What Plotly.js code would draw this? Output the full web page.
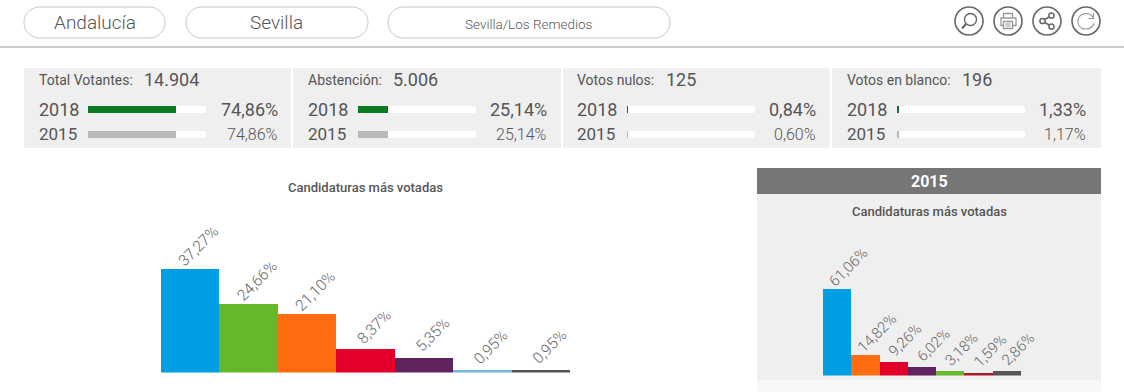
<!DOCTYPE html>
<html><head><meta charset="utf-8">
<script src="https://cdn.plot.ly/plotly-3.0.1.min.js"></script>
<style>html,body{margin:0;padding:0;background:#fff;overflow:hidden}#c{width:1124px;height:392px}</style>
</head><body><div id="c"></div>
<script>
// ---- data ----
const categories2018 = ["Cand. A","Cand. B","Cand. C","Cand. D","Cand. E","Cand. F","Cand. G"];
const values2018 = [37.27,24.66,21.10,8.37,5.35,0.95,0.95];
const colors2018 = ["#009fe3","#66b82a","#ff6c10","#e2002a","#5f2360","#6fb7dd","#555555"];
const categories2015 = ["Cand. A","Cand. C","Cand. D","Cand. E","Cand. B","Cand. H","Cand. G"];
const values2015 = [61.06,14.82,9.26,6.02,3.18,1.59,2.86];
const colors2015 = ["#009fe3","#ff6c10","#e2002a","#5f2360","#66b82a","#a8182e","#555555"];
const kpiNames = ["Total Votantes:","Abstención:","Votos nulos:","Votos en blanco:"];
const kpiTotals = ["14.904","5.006","125","196"];
const kpi2018 = [74.86,25.14,0.84,1.33];
const kpi2015 = [74.86,25.14,0.60,1.17];
const years = ["2018","2015"];
const breadcrumbs = ["Andalucía","Sevilla","Sevilla/Los Remedios"];
const chartTitle = "Candidaturas más votadas";
const sideHeader = "2015";

// ---- helpers ----
const W=1124,H=392;
const fx=x=>x/W, fy=y=>1-y/H;
const dx=(a,b)=>[fx(a),fx(b)], dy=(top,bot)=>[fy(bot),fy(top)];
const pct=v=>v.toFixed(2).replace('.',',')+'%';
const F="Roboto, sans-serif", TXT="#555555";
const hidden=(o)=>Object.assign({visible:false,fixedrange:true,showgrid:false,zeroline:false},o);
const shapes=[], annotations=[];
const rect=(x0,y0,x1,y1,c)=>shapes.push({type:'rect',xref:'paper',yref:'paper',layer:'below',x0:fx(x0),x1:fx(x1),y0:fy(y1),y1:fy(y0),fillcolor:c,line:{width:0}});
const text=(x,y,t,size,o={})=>annotations.push({xref:'paper',yref:'paper',x:fx(x),y:fy(y),text:t,showarrow:false,xanchor:o.anchor||'left',yanchor:'middle',
  font:{family:F,size:size,color:o.color||TXT,weight:o.weight||400},borderpad:0,borderwidth:0});
const pathP=(segs,stroke,w,fill)=>shapes.push({type:'path',xref:'paper',yref:'paper',layer:'below',path:segs,line:{color:stroke,width:w},fillcolor:fill||'rgba(0,0,0,0)'});
const P=(x,y)=>fx(x)+','+fy(y);
function pill(x0,y0,x1,y1){
  const r=(y1-y0)/2,k=r*0.45;
  pathP('M'+P(x0+r,y0)+'L'+P(x1-r,y0)+'C'+P(x1-k,y0)+' '+P(x1,y0+k)+' '+P(x1,y0+r)+'C'+P(x1,y1-k)+' '+P(x1-k,y1)+' '+P(x1-r,y1)
    +'L'+P(x0+r,y1)+'C'+P(x0+k,y1)+' '+P(x0,y1-k)+' '+P(x0,y0+r)+'C'+P(x0,y0+k)+' '+P(x0+k,y0)+' '+P(x0+r,y0)+'Z','#c6c6c6',1);
}
const circle=(cx,cy,r,stroke,w,fill)=>shapes.push({type:'circle',xref:'paper',yref:'paper',layer:'below',x0:fx(cx-r),x1:fx(cx+r),y0:fy(cy+r),y1:fy(cy-r),line:{color:stroke,width:w},fillcolor:fill||'rgba(0,0,0,0)'});

// ---- header ----
pill(24,7,165,38); pill(186,7,368,38); pill(388,7,670,38);
text(94.5,23,breadcrumbs[0],19,{anchor:'center',weight:300});
text(276.5,23,breadcrumbs[1],19,{anchor:'center',weight:300});
text(528.5,24,breadcrumbs[2],13.5,{anchor:'center',weight:300});
rect(0,46,W,48,'#cccccc');
const ICON='#666666', ICON2='#999999';
[969,1008,1047,1086].forEach(c=>circle(c,21,14,ICON,1.6));
// search
circle(970.5,19.5,6,ICON,1.4);
pathP('M'+P(966,24)+'L'+P(962,28.5),ICON,2);
// print
pathP('M'+P(1003.5,18)+'L'+P(1003.5,13.5)+'L'+P(1012.5,13.5)+'L'+P(1012.5,18),ICON2,1.3);
pathP('M'+P(1003,25.5)+'L'+P(1001,25.5)+'L'+P(1001,18)+'L'+P(1016,18)+'L'+P(1016,25.5)+'L'+P(1013,25.5),ICON2,1.3);
pathP('M'+P(1003.5,21.5)+'L'+P(1012.5,21.5)+'L'+P(1012.5,28.5)+'L'+P(1003.5,28.5)+'Z',ICON2,1.3);
pathP('M'+P(1005.5,24)+'L'+P(1010.5,24)+'M'+P(1005.5,26)+'L'+P(1010.5,26),ICON2,1);
// share
circle(1042.5,21,2.6,ICON,1.5); circle(1051.5,15.5,2.6,ICON,1.5); circle(1051.5,26.5,2.6,ICON,1.5);
pathP('M'+P(1045,19.5)+'L'+P(1049,17)+'M'+P(1045,22.5)+'L'+P(1049,25),ICON,1.5);
// refresh
pathP('M'+P(1093,17)+'C'+P(1090.5,14)+' '+P(1087,13)+' '+P(1084,13.8)+'C'+P(1075,16)+' '+P(1076,29)+' '+P(1086,29)+'C'+P(1090,29)+' '+P(1093,26.5)+' '+P(1094,23.5),ICON2,1.2);
pathP('M'+P(1093.5,13)+'L'+P(1093.5,18.5)+'L'+P(1088.5,18.5),ICON2,1.2);

// ---- KPI strip ----
rect(24,68,1101,148,'#efefef');
[292,562,831].forEach(x=>rect(x-1,68,x+1,148,'#ffffff'));
const kpiLabelX=[39,308,577,847], kpiTotalX=[144,393,666,962];
const trackX=[[88,206],[358,476],[627,755],[897,1025]], pctX=[278,547,816,1086];
const traces=[];
const layout={width:W,height:H,margin:{l:0,r:0,t:0,b:0,pad:0},paper_bgcolor:'rgba(0,0,0,0)',plot_bgcolor:'rgba(0,0,0,0)',
  showlegend:false,barmode:'overlay',bargap:0,font:{family:F},shapes,annotations};
kpiNames.forEach((n,i)=>{
  const a=i+3, xa='x'+a, ya='y'+a;
  text(kpiLabelX[i],80,n,14);
  text(kpiTotalX[i],79.5,kpiTotals[i],18);
  text(kpiLabelX[i]-0.5,109,years[0],18);
  text(kpiLabelX[i]-0.5,134,years[1],17);
  text(pctX[i],109,pct(kpi2018[i]),18,{anchor:'right'});
  text(pctX[i],134,pct(kpi2015[i]),16,{anchor:'right',weight:300});
  layout['xaxis'+a]=hidden({domain:dx(trackX[i][0],trackX[i][1]),range:[0,100],anchor:ya});
  layout['yaxis'+a]=hidden({domain:dy(97,147),type:'category',range:[1.5,-0.5],anchor:xa});
  const rows=[[kpi2018[i],'#0a7a23'],[kpi2015[i],'#b9b9b9']];
  traces.push({type:'bar',orientation:'h',y:years,x:[100,100],xaxis:xa,yaxis:ya,width:0.28,marker:{color:'#ffffff',line:{width:0}},hoverinfo:'skip'});
  traces.push({type:'bar',orientation:'h',y:years,x:rows.map(r=>r[0]),xaxis:xa,yaxis:ya,width:0.28,marker:{color:rows.map(r=>r[1]),line:{width:0}},hoverinfo:'skip'});
});
layout.barcornerradius='50%';

// ---- side panel ----
rect(757,168,1101,194,'#767676');
rect(757,194,1101,380,'#efefef');
rect(757,380,1101,392,'#f7f7f7');
text(929,181,sideHeader,16,{anchor:'center',color:'#ffffff',weight:700});
text(929,211.5,chartTitle,13,{anchor:'center',weight:500});
text(365,187,chartTitle,13,{anchor:'center',weight:500});

// ---- bar charts ----
const S1=2.79, S2=1.413, base1=372.5, base2=375.5, top1=200, top2=225;
layout.xaxis=hidden({domain:dx(160.5,570),type:'category',range:[-0.5,6.5],anchor:'y'});
layout.yaxis=hidden({domain:dy(top1,base1),range:[0,(base1-top1)/S1],anchor:'x'});
layout.xaxis2=hidden({domain:dx(823,1021),type:'category',range:[-0.5,6.5],anchor:'y2'});
layout.yaxis2=hidden({domain:dy(top2,base2),range:[0,(base2-top2)/S2],anchor:'x2'});
traces.push({type:'bar',x:categories2018,y:values2018,width:1,marker:{color:colors2018,line:{width:0},cornerradius:0},hoverinfo:'skip',xaxis:'x',yaxis:'y'});
traces.push({type:'bar',x:categories2015,y:values2015,width:1,marker:{color:colors2015,line:{width:0},cornerradius:0},hoverinfo:'skip',xaxis:'x2',yaxis:'y2'});
const lab=(xa,ya,c,v,size,xs,ys)=>annotations.push({xref:xa,yref:ya,x:c,y:v,text:pct(v),showarrow:false,textangle:-45,xanchor:'center',yanchor:'middle',xshift:xs,yshift:ys,
  font:{family:F,size:size,color:'#666666',weight:300}});
values2018.forEach((v,i)=>lab('x','y',categories2018[i],v,15.5,9,22.5));
values2015.forEach((v,i)=>lab('x2','y2',categories2015[i],v,15,11.5,22));

Plotly.newPlot('c',traces,layout,{displayModeBar:false,staticPlot:true});
</script></body></html>
